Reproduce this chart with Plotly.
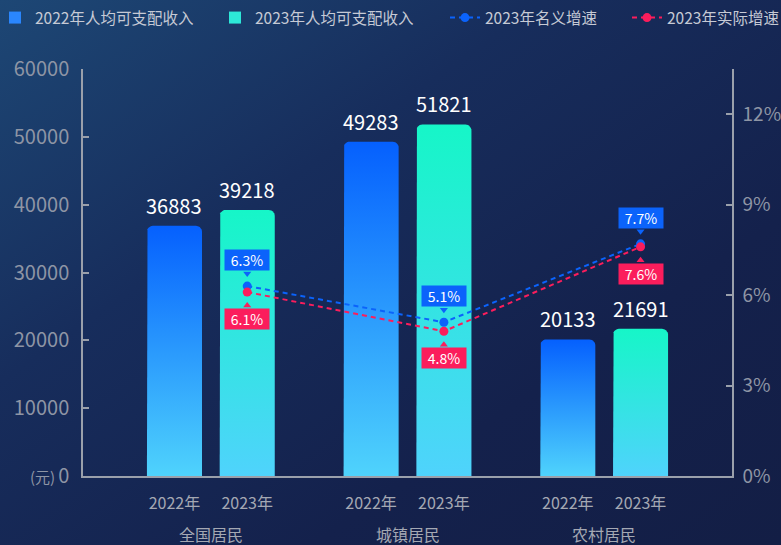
import base64
import numpy as np
import plotly.graph_objects as go

# ---------------- data ----------------
groups = ["全国居民", "城镇居民", "农村居民"]
years = ["2022年", "2023年"]
income_2022 = [36883, 49283, 20133]
income_2023 = [39218, 51821, 21691]
nominal_growth = [6.3, 5.1, 7.7]
real_growth = [6.1, 4.8, 7.6]
series_names = ["2022年人均可支配收入", "2023年人均可支配收入", "2023年名义增速", "2023年实际增速"]
left_ticks = [0, 10000, 20000, 30000, 40000, 50000, 60000]
right_ticks = [0, 3, 6, 9, 12]
unit_label = "(元)"

# ---------------- layout constants ----------------
W, H = 781, 545
ML, MR, MT, MB = 83, 49, 69, 69
PW, PH = W - ML - MR, H - MT - MB
X_RANGE = [-0.65, 2.65]
Y_MAX = 60000
Y2_MAX = 13.5
PX_X = PW / (X_RANGE[1] - X_RANGE[0])
PX_Y = PH / Y_MAX
PX_Y2 = PH / Y2_MAX
BAR_OFF = 0.185
BAR_W = 0.28
RADIUS = 6

FONT = "Noto Sans CJK SC, Noto Sans, sans-serif"
AXIS_COLOR = "#9aa0ab"
TICK_FONT_COLOR = "#8e95a5"
XLABEL_COLOR = "#a4a8b3"
BLUE = "#0b63fb"
RED = "#fb1d5c"

grad_2022 = [[0, "#4fd3fc"], [1, "#0560fe"]]
grad_2023 = [[0, "#4fd3fc"], [1, "#16f6c8"]]


def bar_outline(xc, v):
    x0, x1 = xc - BAR_W / 2, xc + BAR_W / 2
    rx, ry = RADIUS / PX_X, RADIUS / PX_Y
    t1 = np.linspace(np.pi, np.pi / 2, 8)
    t2 = np.linspace(np.pi / 2, 0, 8)
    xs = [x0] + list(x0 + rx + rx * np.cos(t1)) + list(x1 - rx + rx * np.cos(t2)) + [x1, x0]
    ys = [0] + list(v - ry + ry * np.sin(t1)) + list(v - ry + ry * np.sin(t2)) + [0, 0]
    return xs, ys


fig = go.Figure()

# legend-only entries for the bar series
fig.add_trace(go.Bar(x=[None], y=[None], name=series_names[0], marker=dict(color="#2a86fd", line=dict(width=0)),
                     legend="legend"))
fig.add_trace(go.Bar(x=[None], y=[None], name=series_names[1], marker=dict(color="#2de8d8", line=dict(width=0)),
                     legend="legend2"))

# gradient bars drawn as filled shapes on the data axes
for gi, g in enumerate(groups):
    for yi, (vals, grad) in enumerate([(income_2022, grad_2022), (income_2023, grad_2023)]):
        xc = gi + (-BAR_OFF if yi == 0 else BAR_OFF)
        xs, ys = bar_outline(xc, vals[gi])
        fig.add_trace(go.Scatter(
            x=xs, y=ys, mode="lines", fill="toself", line=dict(width=0),
            fillgradient=dict(type="vertical", colorscale=grad),
            showlegend=False, hoverinfo="text",
            text=f"{g} {years[yi]}: {vals[gi]}",
        ))

x_2023 = [gi + BAR_OFF for gi in range(len(groups))]
fig.add_trace(go.Scatter(
    x=x_2023, y=nominal_growth, yaxis="y2", name=series_names[2], mode="lines+markers",
    line=dict(color=BLUE, width=2, dash="5px,4px"), marker=dict(size=9, color=BLUE),
    legend="legend3",
))
fig.add_trace(go.Scatter(
    x=x_2023, y=real_growth, yaxis="y2", name=series_names[3], mode="lines+markers",
    line=dict(color=RED, width=2, dash="5px,4px"), marker=dict(size=9, color=RED),
    legend="legend4",
))

# label pointers (small triangles between point and label box)
fig.add_trace(go.Scatter(
    x=x_2023, y=[v + 12.5 / PX_Y2 for v in nominal_growth], yaxis="y2", mode="markers",
    marker=dict(symbol="triangle-down", size=7, color=BLUE), showlegend=False, hoverinfo="skip",
))
fig.add_trace(go.Scatter(
    x=x_2023, y=[v - 13.5 / PX_Y2 for v in real_growth], yaxis="y2", mode="markers",
    marker=dict(symbol="triangle-up", size=7, color=RED), showlegend=False, hoverinfo="skip",
))

ann = []
# bar value labels
for gi in range(len(groups)):
    for yi, vals in enumerate([income_2022, income_2023]):
        xc = gi + (-BAR_OFF if yi == 0 else BAR_OFF)
        ann.append(dict(x=xc, y=vals[gi], xref="x", yref="y", text=str(vals[gi]), showarrow=False,
                        yanchor="bottom", yshift=4, font=dict(size=20, color="#ffffff", family=FONT)))
# growth labels
for gi in range(len(groups)):
    ann.append(dict(x=x_2023[gi], y=nominal_growth[gi], xref="x", yref="y2", text=f"{nominal_growth[gi]}%",
                    showarrow=False, yanchor="bottom", yshift=15, bgcolor=BLUE, borderpad=2,
                    width=40, height=16, font=dict(size=14, color="#ffffff", family=FONT)))
    ann.append(dict(x=x_2023[gi], y=real_growth[gi], xref="x", yref="y2", text=f"{real_growth[gi]}%",
                    showarrow=False, yanchor="top", yshift=-16, bgcolor=RED, borderpad=2,
                    width=40, height=16, font=dict(size=14, color="#ffffff", family=FONT)))
# group labels
for gi, g in enumerate(groups):
    ann.append(dict(x=gi, y=0, xref="x", yref="paper", text=g, showarrow=False, yanchor="middle",
                    yshift=-58, font=dict(size=16, color=XLABEL_COLOR, family=FONT)))
# unit label
ann.append(dict(x=(28 - ML) / PW, y=0, xref="paper", yref="paper", text=unit_label, showarrow=False,
                yanchor="middle", font=dict(size=15, color=TICK_FONT_COLOR, family=FONT)))

# background gradient image
svg = (f"<svg xmlns='http://www.w3.org/2000/svg' width='{W}' height='{H}'>"
       "<defs><linearGradient id='g' x1='0' y1='0' x2='1' y2='1'>"
       "<stop offset='0' stop-color='#1d4775'/><stop offset='0.35' stop-color='#172d5c'/>"
       "<stop offset='0.7' stop-color='#14214c'/><stop offset='1' stop-color='#131e45'/>"
       "</linearGradient></defs>"
       f"<rect width='{W}' height='{H}' fill='url(#g)'/></svg>")
bg_src = "data:image/svg+xml;base64," + base64.b64encode(svg.encode()).decode()


def legend_at(text_start):
    return dict(orientation="h", xref="paper", yref="paper", x=(text_start - 40 - ML) / PW,
                y=1 + (MT - 18) / PH, yanchor="middle", xanchor="left", bgcolor="rgba(0,0,0,0)",
                font=dict(size=15.5, color="#c6cad5", family=FONT), itemwidth=30)


fig.update_layout(
    width=W, height=H,
    margin=dict(l=ML, r=MR, t=MT, b=MB, autoexpand=False),
    paper_bgcolor="#15234f", plot_bgcolor="rgba(0,0,0,0)",
    font=dict(family=FONT),
    images=[dict(source=bg_src, xref="paper", yref="paper", x=-ML / PW, y=(PH + MT) / PH,
                 sizex=W / PW, sizey=H / PH, xanchor="left", yanchor="top", sizing="stretch",
                 layer="below")],
    legend=legend_at(35), legend2=legend_at(255), legend3=legend_at(485), legend4=legend_at(667),
    xaxis=dict(range=X_RANGE, showgrid=False, zeroline=False, showline=True, linecolor=AXIS_COLOR,
               linewidth=1.5, ticks="", automargin=False,
               tickvals=[gi + o for gi in range(len(groups)) for o in (-BAR_OFF, BAR_OFF)],
               ticktext=[y for _ in groups for y in years], ticklabelstandoff=12,
               tickfont=dict(size=16, color=XLABEL_COLOR, family=FONT), fixedrange=True),
    yaxis=dict(range=[0, Y_MAX], tickvals=left_ticks, ticktext=[str(t) for t in left_ticks],
               showgrid=False, zeroline=False, showline=True, automargin=False,
               linecolor=AXIS_COLOR, linewidth=1.5, ticks="inside", ticklen=6, tickcolor=AXIS_COLOR,
               tickwidth=1.5, ticklabelstandoff=8,
               tickfont=dict(size=20, color=TICK_FONT_COLOR, family=FONT)),
    yaxis2=dict(range=[0, Y2_MAX], overlaying="y", side="right", automargin=False,
                tickvals=right_ticks + [Y2_MAX], ticktext=[f"{t}%" for t in right_ticks] + [""],
                showgrid=False, zeroline=False, showline=True, linecolor=AXIS_COLOR, linewidth=1.5,
                ticks="inside", ticklen=6, tickcolor=AXIS_COLOR, tickwidth=1.5, ticklabelstandoff=5,
                tickfont=dict(size=19, color=TICK_FONT_COLOR, family=FONT)),
    annotations=ann,
    showlegend=True,
)

fig.write_html("out.html", config={"displayModeBar": False},
               post_script="document.body.style.margin='0';document.body.style.padding='0';")
